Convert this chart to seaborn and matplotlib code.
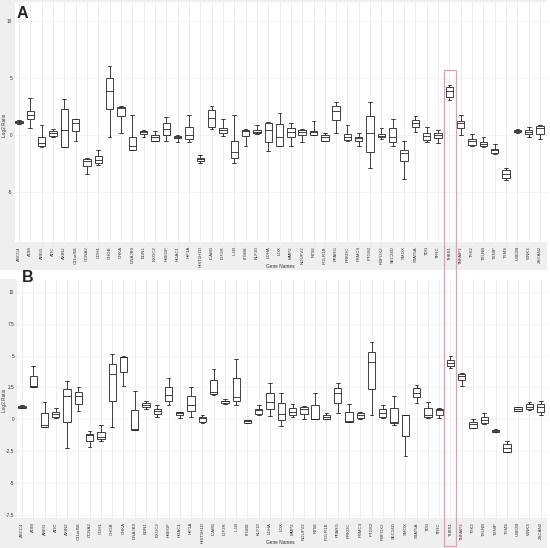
import numpy as np
import pandas as pd
import matplotlib
matplotlib.use('Agg')
from matplotlib import pyplot as plt
from matplotlib.patches import Rectangle
import seaborn as sns

genes = ['ABCC4', 'ADM', 'AREG', 'ATIC', 'AXIN2', 'C11orf58', 'CCNA2', 'CDH1', 'CHGB', 'CHKA',
         'DNAJB9', 'EDN1', 'EXOC2', 'HBEGF', 'HDAC1', 'HIF1A', 'HIST1H1D', 'ICAM1', 'IGF2R', 'IL1B',
         'ITGB8', 'KLF10', 'LDHA', 'LOX', 'MMP2', 'NDUFV2', 'NT5E', 'POLR1B', 'PPARG', 'PRKDC',
         'PSMC4', 'PTGS2', 'RBFOX2', 'SEC24D', 'SMOX', 'STAT5A', 'TDG', 'TFRC', 'THBS1', 'TNFAIP3',
         'TYK2', 'TXLNB', 'TXNIP', 'TYMS', 'UBE2B', 'WNK3', 'ZSCAN2']

# panel A : low whisker, q1, median, q3, high whisker
a_lo = [0.97, 0.64, -1.08, -0.20, -1.10, -0.53, -3.45, -2.63, -0.15, 0.15,
        -1.37, -0.20, -0.58, -0.58, -0.67, -0.64, -2.43, 0.50, -0.12, -2.49,
        -0.94, 0.06, -1.46, -1.02, -0.94, -0.67, 0.00, -0.58, 0.15, -0.58,
        -0.94, -2.92, -0.35, -0.94, -3.89, 0.26, -0.64, -0.73, 3.07, 0.00,
        -0.94, -1.11, -1.67, -3.98, 0.20, -0.15, -0.38]
a_q1 = [1.03, 1.37, -1.02, -0.09, -1.10, 0.35, -2.72, -2.49, 2.28, 1.64,
        -1.32, 0.09, -0.50, 0.00, -0.32, -0.38, -2.31, 0.67, 0.20, -2.05,
        -0.09, 0.15, -0.64, -1.02, -0.15, 0.00, 0.00, -0.53, 1.26, -0.44,
        -0.58, -1.55, -0.23, -0.67, -2.28, 0.73, -0.44, -0.26, 3.36, 0.64,
        -0.85, -1.02, -1.61, -3.80, 0.23, 0.03, 0.09]
a_med = [1.15, 1.70, -0.73, 0.15, 0.44, 1.02, -2.28, -2.19, 3.86, 2.34,
         -0.94, 0.26, -0.15, 0.53, -0.18, 0.00, -2.13, 1.46, 0.44, -1.55,
         0.32, 0.29, 0.44, -0.15, 0.23, 0.26, 0.26, -0.18, 2.10, -0.23,
         -0.29, 0.15, -0.06, -0.15, -1.61, 1.08, -0.09, -0.03, 3.83, 1.02,
         -0.58, -0.79, -1.37, -3.42, 0.35, 0.23, 0.61]
a_q3 = [1.25, 2.05, -0.20, 0.35, 2.25, 1.40, -2.10, -1.84, 4.97, 2.46,
        -0.15, 0.35, 0.00, 1.02, -0.06, 0.67, -1.99, 2.19, 0.64, -0.50,
        0.41, 0.41, 1.08, 0.96, 0.56, 0.44, 0.32, 0.00, 2.57, 0.06,
        -0.15, 1.64, 0.09, 0.64, -1.32, 1.29, 0.18, 0.15, 4.18, 1.23,
        -0.38, -0.64, -1.26, -3.07, 0.44, 0.38, 0.79]
a_hi = [1.32, 3.20, 0.90, 0.55, 3.10, 1.40, -2.05, -1.37, 6.05, 2.50,
        1.75, 0.44, 0.35, 1.55, 0.00, 1.75, -1.75, 2.54, 1.40, 1.75,
        0.50, 0.82, 1.14, 1.90, 1.08, 0.50, 1.17, 0.20, 2.90, 0.88,
        0.15, 2.87, 0.58, 1.37, -0.56, 1.67, 0.73, 0.41, 4.39, 1.70,
        0.06, -0.20, -0.82, -2.92, 0.47, 0.73, 0.85]

# panel B
b_lo = [0.87, 2.57, -0.60, 0.13, -2.23, 0.63, -2.15, -1.70, -0.63, 2.62,
        -0.84, 0.79, 0.18, 1.13, 0.10, 0.18, -0.26, 1.91, 1.20, 1.13,
        -0.28, 0.37, 0.26, -0.50, 0.21, 0.05, 0.00, 0.00, 0.52, -0.24,
        0.03, 0.31, 0.13, -0.45, -2.85, 1.26, 0.10, 0.10, 4.00, 2.62,
        -0.71, -0.39, -0.99, -2.59, 0.66, 0.73, 0.34]
b_q1 = [0.89, 2.57, -0.58, 0.16, -0.24, 1.20, -1.73, -1.57, 1.47, 3.74,
        -0.81, 0.94, 0.39, 1.47, 0.31, 0.63, -0.18, 1.99, 1.26, 1.41,
        -0.26, 0.42, 0.79, -0.05, 0.34, 0.42, 0.00, 0.03, 1.26, -0.18,
        0.08, 2.41, 0.21, -0.31, -1.28, 1.73, 0.16, 0.37, 4.19, 3.09,
        -0.65, -0.31, -0.97, -2.54, 0.68, 0.79, 0.60]
b_med = [0.97, 2.62, -0.47, 0.42, 1.83, 1.86, -1.26, -1.41, 3.56, 4.90,
         -0.79, 1.13, 0.68, 1.88, 0.52, 1.10, 0.08, 2.17, 1.41, 1.78,
         -0.16, 0.71, 1.39, 0.42, 0.60, 0.79, 0.05, 0.21, 2.04, -0.10,
         0.34, 4.50, 0.52, -0.18, 0.31, 2.07, 0.34, 0.76, 4.45, 3.43,
         -0.37, -0.05, -0.89, -2.28, 0.84, 0.99, 0.99]
b_q3 = [1.07, 3.40, 0.47, 0.58, 2.41, 2.12, -1.15, -0.97, 4.35, 4.92,
        0.73, 1.31, 0.84, 2.57, 0.58, 1.81, 0.21, 3.09, 1.47, 3.25,
        -0.05, 0.79, 2.09, 1.26, 0.86, 0.94, 1.10, 0.34, 2.43, 0.60,
        0.47, 5.29, 0.79, 0.89, 0.31, 2.43, 0.86, 0.81, 4.66, 3.53,
        -0.24, 0.16, -0.81, -1.96, 0.94, 1.18, 1.20]
b_hi = [1.10, 4.19, 1.36, 0.86, 2.98, 2.51, -0.89, -0.42, 5.10, 4.95,
        2.25, 1.44, 1.10, 3.27, 0.60, 2.51, 0.31, 3.93, 1.57, 4.74,
        -0.03, 1.10, 2.85, 2.09, 1.20, 1.05, 2.09, 0.47, 2.83, 1.20,
        0.58, 6.07, 1.10, 1.83, 0.34, 2.70, 1.39, 0.86, 4.97, 3.61,
        0.05, 0.47, -0.79, -1.68, 0.97, 1.39, 1.47]


def make_df(lo, q1, med, q3, hi):
    rows = []
    for g, vals in zip(genes, zip(lo, q1, med, q3, hi)):
        for v in vals:
            rows.append((g, v))
    return pd.DataFrame(rows, columns=['gene', 'log2'])


dfA = make_df(a_lo, a_q1, a_med, a_q3, a_hi)
dfB = make_df(b_lo, b_q1, b_med, b_q3, b_hi)

sns.set_style('white')
plt.rcParams['font.family'] = ['Liberation Sans', 'DejaVu Sans']

W, H = 550, 548
fig = plt.figure(figsize=(W / 100, H / 100), dpi=100)


def px(l, t, r, b):
    return [l / W, 1 - b / H, (r - l) / W, (b - t) / H]


grey = '#efefef'
fig.patches.append(Rectangle((0, 1 - 270 / H), 547 / W, 270 / H, transform=fig.transFigure,
                             facecolor=grey, edgecolor='none', zorder=-1))
fig.patches.append(Rectangle((0, 0), 547 / W, (548 - 279) / H, transform=fig.transFigure,
                             facecolor=grey, edgecolor='none', zorder=-1))

axA = fig.add_axes(px(15, 2, 548, 242))
axB = fig.add_axes(px(17, 279, 548, 518))

for ax, df in [(axA, dfA), (axB, dfB)]:
    sns.boxplot(data=df, x='gene', y='log2', order=genes, ax=ax, color='white',
                linecolor='#222222', linewidth=0.6, width=0.65, whis=(0, 100), fliersize=0)
    ax.set_facecolor('white')
    for s in ax.spines.values():
        s.set_visible(False)
    ax.set_xlabel('')
    ax.set_ylabel('')
    ax.grid(True, axis='x', color='#e6e6e6', linewidth=0.5)
    ax.grid(True, axis='y', color='#f0f0f0', linewidth=0.5)
    ax.set_axisbelow(True)
    ax.tick_params(axis='x', labelrotation=90, labelsize=3.2, length=0, pad=3, labelcolor='#333333')
    ax.tick_params(axis='y', labelsize=3.4, length=0, pad=2, labelcolor='#333333')

axA.set_ylim(-9.4, 11.65)
axA.set_yticks([-5, 0, 5, 10])
axA.set_yticklabels(['-5', '0', '5', '10'])
axA.set_xlim(-0.35, 46.7)

axB.set_ylim(-7.73, 11.0)
axB.set_yticks([-7.5, -5, -2.5, 0, 2.5, 5, 7.5, 10])
axB.set_yticklabels(['-7.5', '-5', '-2.5', '0', '2.5', '5', '7.5', '10'])
axB.set_xlim(-0.44, 46.65)

for y_lab, y_name in [(125, 266), (400, 543)]:
    fig.text(5 / W, 1 - y_lab / H, 'Log2 Ratio', rotation=90, fontsize=3.4, color='#333333',
             ha='center', va='center')
    fig.text(280 / W, 1 - y_name / H, 'Gene Names', fontsize=3.4, color='#333333',
             ha='center', va='center')

fig.text(17 / W, 1 - 13 / H, 'A', fontsize=11.5, fontweight='bold', va='center', ha='left')
fig.text(22 / W, 1 - 277 / H, 'B', fontsize=11.5, fontweight='bold', va='center', ha='left')

# highlight for THBS1
fig.patches.append(Rectangle((444 / W, 1 - 546 / H), 12 / W, (546 - 70) / H, transform=fig.transFigure,
                             fill=False, edgecolor='#e79bb7', linewidth=0.9, zorder=10))

fig.savefig('out.png', dpi=100, facecolor='white')
